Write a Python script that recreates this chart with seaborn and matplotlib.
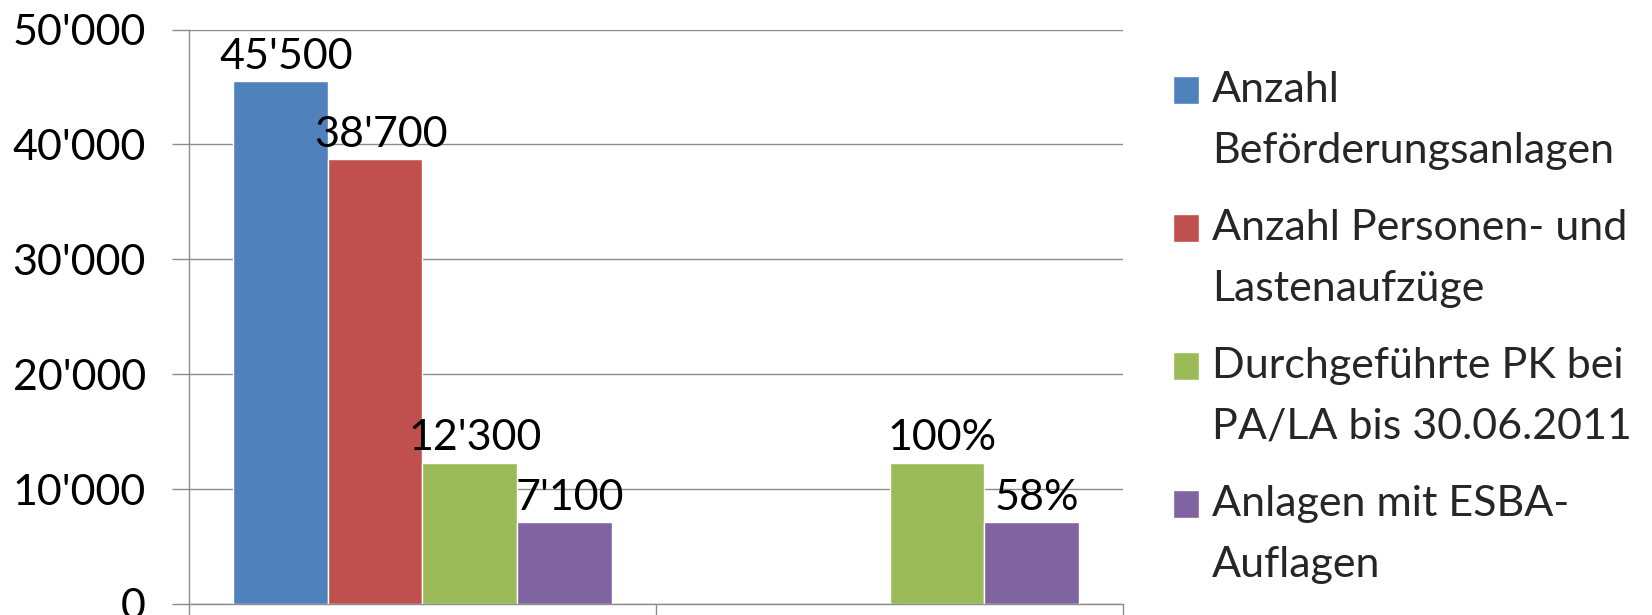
import matplotlib
matplotlib.use("Agg")
import matplotlib.pyplot as plt
from matplotlib.patches import Rectangle
from matplotlib.legend_handler import HandlerPatch
import seaborn as sns
import pandas as pd
import numpy as np

# Data
categories = ["Anlagen", "Anteil"]
series = [
    "Anzahl\nBeförderungsanlagen",
    "Anzahl Personen- und\nLastenaufzüge",
    "Durchgeführte PK bei\nPA/LA bis 30.06.2011",
    "Anlagen mit ESBA-\nAuflagen",
]
values_anlagen = [45500, 38700, 12300, 7100]
values_anteil = [np.nan, np.nan, 12300, 7100]
labels_anteil = ["", "", "100%", "58%"]
colors = ["#4F81BD", "#C0504D", "#9BBB59", "#8064A2"]

rows = []
for s, v in zip(series, values_anlagen):
    rows.append({"Kategorie": categories[0], "Serie": s, "Wert": v})
for s, v in zip(series, values_anteil):
    rows.append({"Kategorie": categories[1], "Serie": s, "Wert": v})
df = pd.DataFrame(rows)

label_text = {}
for s, v in zip(series, values_anlagen):
    label_text[(s, 0)] = f"{v:,.0f}".replace(",", "'")
for s, t in zip(series, labels_anteil):
    label_text[(s, 1)] = t

sns.set_theme(style="white")
plt.rcParams["font.family"] = ["Lato", "DejaVu Sans"]
FS = 31
LINESPACING = 1.75


class FirstLineSquare(HandlerPatch):
    """Legend square placed beside the first line of a two-line label."""

    def __init__(self, shift, **kw):
        super().__init__(**kw)
        self.shift = shift

    def create_artists(self, legend, orig_handle, xdescent, ydescent,
                       width, height, fontsize, trans):
        p = Rectangle((-xdescent, -ydescent + self.shift), width, height)
        self.update_prop(p, orig_handle, legend)
        p.set_transform(trans)
        return [p]


fig = plt.figure(figsize=(16.52, 6.15), dpi=100)
ax = fig.add_axes([0.1144, 0.0179, 0.5654, 0.9341])

sns.barplot(data=df, x="Kategorie", y="Wert", hue="Serie", hue_order=series,
            order=categories, palette=colors, saturation=1, errorbar=None,
            width=0.81, ax=ax, legend=True)

# data labels
for s, cont in zip(series, ax.containers):
    labs = []
    for bar in cont:
        idx = int(round(bar.get_x() + bar.get_width() / 2))
        h = bar.get_height()
        labs.append(label_text.get((s, idx), "") if np.isfinite(h) and h > 0 else "")
    anns = ax.bar_label(cont, labels=labs, padding=4, fontsize=FS, color="black")
    for a in anns:
        a.xyann = (4, 4)

ax.set_ylim(0, 50000)
ax.set_xlim(-0.5, 1.5)
ax.set_yticks(np.arange(0, 50001, 10000))
ax.set_yticklabels([f"{v:,.0f}".replace(",", "'") for v in np.arange(0, 50001, 10000)],
                   fontsize=FS, color="black")
ax.set_xticks([-0.5, 0.5, 1.5])
ax.set_xticklabels([])
ax.set_xlabel("")
ax.set_ylabel("")

grid_color = "#8C8C8C"
ax.yaxis.grid(True, color=grid_color, linewidth=1)
ax.set_axisbelow(True)
for side in ["top", "right"]:
    ax.spines[side].set_visible(False)
for side in ["left", "bottom"]:
    ax.spines[side].set_color(grid_color)
    ax.spines[side].set_linewidth(1)
ax.tick_params(axis="y", direction="out", length=12, width=1, color=grid_color, pad=19, left=True)
ax.tick_params(axis="x", direction="out", length=10, width=1, color=grid_color, bottom=True)

handles, lbls = ax.get_legend_handles_labels()
ax.legend_.remove()
shift_pt = 22.0
leg = fig.legend(handles, lbls, loc="upper left", bbox_to_anchor=(0.710, 0.885),
                 frameon=False, fontsize=FS, handlelength=0.6, handleheight=0.6,
                 handletextpad=0.3, labelspacing=0.9, borderpad=0, borderaxespad=0,
                 handler_map={h: FirstLineSquare(shift_pt) for h in handles})
for t in leg.get_texts():
    t.set_linespacing(LINESPACING)

fig.savefig("out.png", dpi=100)
